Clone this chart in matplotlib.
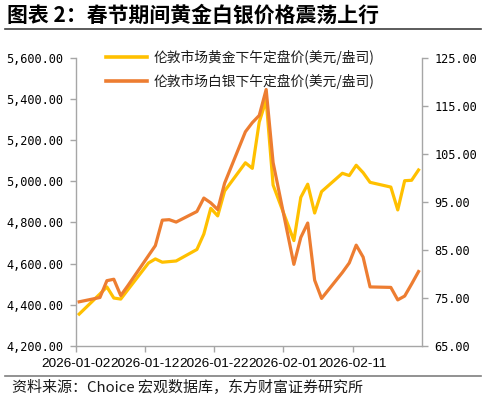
import matplotlib
matplotlib.use("Agg")
import matplotlib.pyplot as plt
import matplotlib.dates as mdates
from matplotlib.lines import Line2D
import pandas as pd

plt.rcParams['font.family'] = ['Noto Sans CJK SC', 'DejaVu Sans']

dates = [
    "2026-01-02", "2026-01-05", "2026-01-06", "2026-01-07", "2026-01-08", "2026-01-09",
    "2026-01-12", "2026-01-13", "2026-01-14", "2026-01-15", "2026-01-16",
    "2026-01-19", "2026-01-20", "2026-01-21", "2026-01-22", "2026-01-23",
    "2026-01-26", "2026-01-27", "2026-01-28", "2026-01-29", "2026-01-30",
    "2026-02-02", "2026-02-03", "2026-02-04", "2026-02-05", "2026-02-06",
    "2026-02-09", "2026-02-10", "2026-02-11", "2026-02-12", "2026-02-13",
    "2026-02-16", "2026-02-17", "2026-02-18", "2026-02-19", "2026-02-20",
]
gold = [
    4355, 4453, 4487, 4433, 4428, 4472,
    4603, 4623, 4607, 4610, 4613,
    4669, 4744, 4869, 4832, 4953,
    5090, 5063, 5288, 5395, 4982,
    4712, 4922, 4986, 4846, 4950,
    5039, 5028, 5078, 5042, 4995,
    4972, 4861, 5003, 5005, 5055,
]
silver = [
    74.2, 75.1, 78.6, 78.9, 75.5, 77.5,
    83.8, 85.9, 91.2, 91.3, 90.8,
    93.0, 95.8, 94.8, 93.4, 98.9,
    109.6, 111.5, 113.0, 118.4, 103.2,
    82.0, 87.6, 90.6, 78.7, 74.9,
    80.3, 82.3, 86.0, 83.5, 77.3,
    77.2, 74.6, 75.4, 77.9, 80.5,
]
gold_label = "伦敦市场黄金下午定盘价(美元/盎司)"
silver_label = "伦敦市场白银下午定盘价(美元/盎司)"
tick_dates = ["2026-01-02", "2026-01-12", "2026-01-22", "2026-02-01", "2026-02-11"]
left_ticks = [4200, 4400, 4600, 4800, 5000, 5200, 5400, 5600]
right_ticks = [65, 75, 85, 95, 105, 115, 125]

GOLD = "#FFC000"
SILVER = "#ED7D31"
AXIS = "#A6A6A6"

x = pd.to_datetime(dates) + pd.Timedelta(hours=12)

fig = plt.figure(figsize=(4.86, 4.0), dpi=100)
ax = fig.add_axes([0.1558, 0.135, 0.7125, 0.7205])
ax2 = ax.twinx()

ax.plot(x, gold, color=GOLD, lw=2.3, solid_joinstyle='round', zorder=3)
ax2.plot(x, silver, color=SILVER, lw=2.3, solid_joinstyle='round', zorder=3)

ax.set_xlim(pd.Timestamp("2026-01-02"), pd.Timestamp("2026-02-21"))
ax.set_ylim(4200, 5600)
ax2.set_ylim(65, 125)
ax.set_xticks(pd.to_datetime(tick_dates))
ax.xaxis.set_major_formatter(mdates.DateFormatter("%Y-%m-%d"))
ax.set_yticks(left_ticks)
ax.set_yticklabels([f"{v:,.2f}" for v in left_ticks])
ax2.set_yticks(right_ticks)
ax2.set_yticklabels([f"{v:.2f}" for v in right_ticks])

mono = dict(family='DejaVu Sans Mono', size=8.6, color='#000000')
for lab in ax.get_yticklabels():
    lab.set(**mono)
for lab in ax2.get_yticklabels():
    lab.set(**mono)
for lab in ax.get_xticklabels():
    lab.set(family='Liberation Sans', size=9.7, color='#000000')

for a in (ax, ax2):
    a.spines['top'].set_visible(False)
    for s in ('left', 'right', 'bottom'):
        a.spines[s].set_color(AXIS)
        a.spines[s].set_linewidth(1.0)
    a.tick_params(color=AXIS, length=4, width=1.0)
ax.spines['right'].set_visible(False)
ax2.spines['left'].set_visible(False)
ax2.spines['bottom'].set_visible(False)
ax.tick_params(axis='y', pad=5)
ax2.tick_params(axis='y', pad=5)
ax.tick_params(axis='x', pad=4.5)

handles = [Line2D([], [], color=GOLD, lw=2.6), Line2D([], [], color=SILVER, lw=2.6)]
leg = fig.legend(handles, [gold_label, silver_label], loc='upper left',
                 bbox_to_anchor=(0.218, 0.876), frameon=False, borderpad=0,
                 borderaxespad=0, handlelength=3.0, handletextpad=0.45,
                 labelspacing=0.68, prop={'family': 'Noto Sans CJK SC', 'size': 9.9})
for t in leg.get_texts():
    t.set_color('#1a1a1a')

fig.text(0.014, 0.962, "图表 2：春节期间黄金白银价格震荡上行", fontsize=15,
         fontweight='bold', va='center', ha='left', color='#000000')
fig.add_artist(Line2D([0.010, 0.990], [0.927, 0.927], color='#404040', lw=1.2))
fig.add_artist(Line2D([0.010, 0.990], [0.061, 0.061], color='#7f7f7f', lw=1.2))
fig.text(0.024, 0.032, "资料来源：Choice 宏观数据库，东方财富证券研究所", fontsize=10.8,
         va='center', ha='left', color='#1a1a1a')

fig.savefig("out.png", dpi=100)
